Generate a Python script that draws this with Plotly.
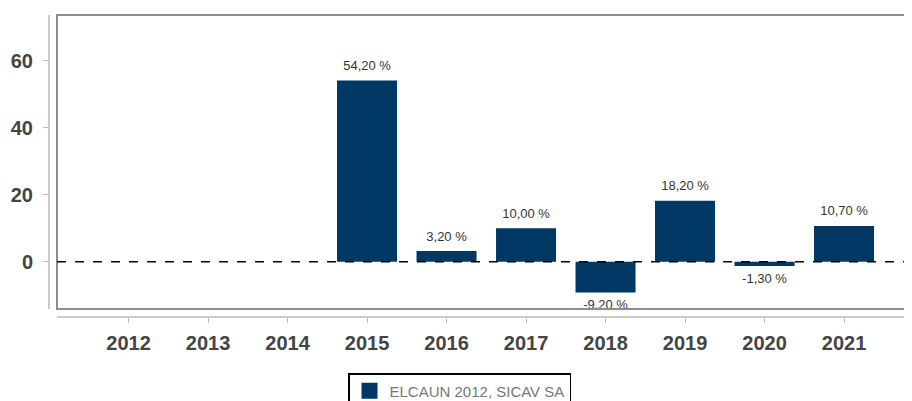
import plotly.graph_objects as go

years = ["2012", "2013", "2014", "2015", "2016", "2017", "2018", "2019", "2020", "2021"]
returns = [None, None, None, 54.2, 3.2, 10.0, -9.2, 18.2, -1.3, 10.7]
series_name = "ELCAUN 2012, SICAV SA"
bar_color = "#003865"

labels = ["" if v is None else f"{v:.2f}".replace(".", ",") + " %" for v in returns]
label_pos = ["top center" if (v is None or v >= 0) else "bottom center" for v in returns]

# page body has an 8px default margin
W, H = 904, 393
L, R, T, B = 41, 0, 7, 84
pw = W - L - R
ph = H - T - B
gap = 8

fig = go.Figure()
fig.add_trace(go.Bar(
    x=years, y=returns, name=series_name,
    marker=dict(color=bar_color, line=dict(width=0)),
    width=0.755, showlegend=False, hoverinfo="x+y",
))
# value labels
fig.add_trace(go.Scatter(
    x=years, y=returns, mode="markers+text", text=labels, textposition=label_pos,
    marker=dict(size=10, opacity=0, color=bar_color),
    textfont=dict(family="Liberation Sans, Arial", size=13, color="#333333"),
    cliponaxis=True, showlegend=False, hoverinfo="skip",
))
# legend entry
fig.add_trace(go.Scatter(
    x=[None], y=[None], mode="markers", name=series_name,
    marker=dict(symbol="square", size=16, color=bar_color),
    showlegend=True,
))

fig.update_layout(
    width=W, height=H,
    margin=dict(l=L, r=R, t=T, b=B, pad=0, autoexpand=False),
    plot_bgcolor="white", paper_bgcolor="white",
    font=dict(family="Liberation Sans, Arial", color="#444444"),
    xaxis=dict(
        type="category", domain=[gap / pw, 1], anchor="free", position=0,
        range=[-0.9, 9.855], automargin=False,
        showline=True, linecolor="#cccccc", linewidth=2,
        ticks="outside", ticklen=5, tickcolor="#bbbbbb", tickwidth=1,
        tickfont=dict(size=20, color="#444444", family="Liberation Sans, Arial", weight="bold"),
        showgrid=False, zeroline=False, ticklabelstandoff=3,
    ),
    yaxis=dict(
        domain=[gap / ph, 1], anchor="free", position=0,
        range=[-14.14, 73.75], automargin=False,
        tickvals=[0, 20, 40, 60],
        showline=True, linecolor="#cccccc", linewidth=2,
        ticks="outside", ticklen=5, tickcolor="#bbbbbb", tickwidth=1,
        tickfont=dict(size=20, color="#444444", family="Liberation Sans, Arial", weight="bold"),
        showgrid=False, zeroline=False,
        ticklabelstandoff=6,
    ),
    legend=dict(
        orientation="h", xref="container", yref="container",
        x=(348 - 8) / W, xanchor="left",
        y=(H - 365) / H, yanchor="top",
        bordercolor="#000000", borderwidth=1.5,
        font=dict(size=15, color="#777777", family="Liberation Sans, Arial"),
        bgcolor="white",
    ),
    shapes=[
        dict(type="rect", xref="x domain", yref="y domain", x0=0, x1=1, y0=0, y1=1,
             line=dict(color="#8c8c8c", width=2), layer="above"),
        dict(type="line", xref="x domain", yref="y", x0=0, x1=1, y0=0, y1=0,
             line=dict(color="#000000", width=1.5, dash="dash"), layer="above"),
    ],
)

fig.write_html("out.html")
